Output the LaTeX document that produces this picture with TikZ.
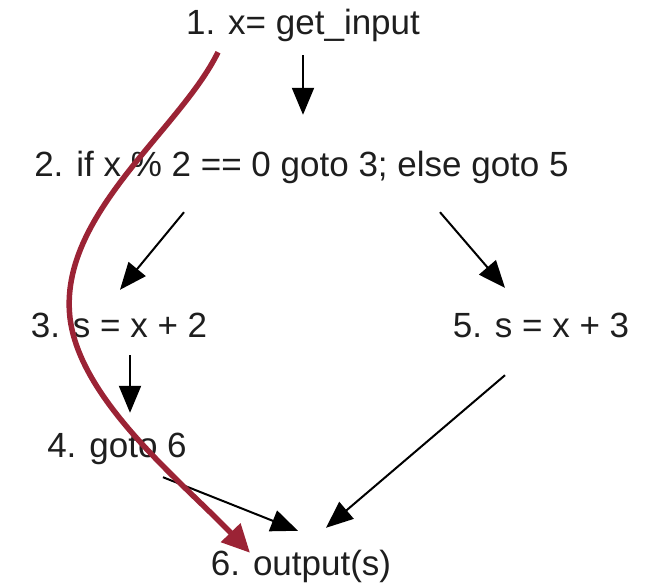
\documentclass[tikz,border=0pt]{standalone}
\usepackage{fontspec}
\setmainfont{Liberation Sans}
\usetikzlibrary{arrows.meta,calc}
\definecolor{txtc}{HTML}{1E1E1E}
\definecolor{redc}{HTML}{9B2335}
\begin{document}
\begin{tikzpicture}[x=1pt,y=-1pt,
  lbl/.style={anchor=base,inner sep=0pt,text height=25pt,text depth=8pt,
    font=\fontsize{35}{40}\selectfont,text=txtc},
  arr/.style={draw=black,line width=2pt,-{Triangle[length=27pt,width=22pt]}},
  redarr/.style={draw=redc,line width=5.5pt,-{Triangle[length=28pt,width=26pt]}}]
\useasboundingbox (0,0) rectangle (654,586);
\node[lbl] (n1) at (303,35) {1. x= get\_input};
\node[lbl] (n2) at (301.5,176) {2. if x \% 2 == 0 goto 3; else goto 5};
\node[lbl] (n3) at (119,337) {3. s = x + 2};
\node[lbl] (n5) at (541,337) {5. s = x + 3};
\node[lbl] (n4) at (117,457) {4. goto 6};
\node[lbl] (n6) at (301,575) {6. output(s)};
\draw[arr] ([shift={(0,12)}]n1.south) -- ([shift={(1.5,-36)}]n2.north);
\draw[arr] ([shift={(-117.5,28)}]n2.south) -- ([shift={(1,-22)}]n3.north);
\draw[arr] ([shift={(138.5,28)}]n2.south) -- ([shift={(-36,-24)}]n5.north);
\draw[arr] ([shift={(11,10)}]n3.south) -- ([shift={(13,-19)}]n4.north);
\draw[arr] ([shift={(46,12)}]n4.south) -- ([shift={(-3,-19)}]n6.north);
\draw[arr] ([shift={(-36,30)}]n5.south) -- ([shift={(25,-22)}]n6.north);
\coordinate (rs) at ([shift={(-85,9)}]n1.south);
\coordinate (rm) at (70,318);
\coordinate (re) at ([shift={(-51,3)}]n6.north);
\draw[redarr] (rs) .. controls (180,130) and (58,215) .. (rm)
  .. controls (80,400) and (180,480) .. (re);
\end{tikzpicture}
\end{document}
